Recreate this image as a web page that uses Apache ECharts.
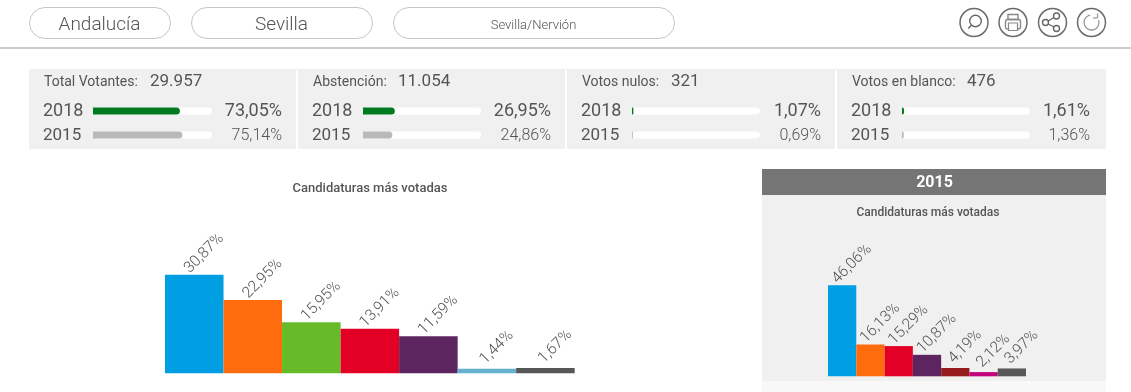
<!DOCTYPE html>
<html><head><meta charset="utf-8">
<style>html,body{margin:0;padding:0;background:#fff}#c{width:1131px;height:392px}</style>
<script src="https://cdn.jsdelivr.net/npm/echarts@6/dist/echarts.min.js"></script>
</head><body><div id="c"></div>
<script>
const FONT = 'Roboto';
const breadcrumbs = ['Andalucía', 'Sevilla', 'Sevilla/Nervión'];
const statLabels = ['Total Votantes:', 'Abstención:', 'Votos nulos:', 'Votos en blanco:'];
const statValues = ['29.957', '11.054', '321', '476'];
const years = ['2018', '2015'];
const stat2018 = [73.05, 26.95, 1.07, 1.61];
const stat2015 = [75.14, 24.86, 0.69, 1.36];
const candidates2018 = [30.87, 22.95, 15.95, 13.91, 11.59, 1.44, 1.67];
const colors2018 = ['#009fe3', '#ff6c0e', '#67bb28', '#e30025', '#5c2560', '#66b1cd', '#575757'];
const candidates2015 = [46.06, 16.13, 15.29, 10.87, 4.19, 2.12, 3.97];
const colors2015 = ['#009fe3', '#ff6c0e', '#e30025', '#5c2560', '#951b1e', '#c4007b', '#575757'];
const chartTitle = 'Candidaturas más votadas';
const fmt = v => v.toFixed(2).replace('.', ',');

const panelX = [
  {text: 44, val: 150, bar0: 93, bar1: 212, pct: 282},
  {text: 313, val: 398, bar0: 363, bar1: 481, pct: 551},
  {text: 582, val: 671, bar0: 632, bar1: 760, pct: 821},
  {text: 852, val: 967, bar0: 902, bar1: 1030, pct: 1090}
];
const pills = [[29, 141, 19, 25], [191, 181, 19, 25], [393, 281, 13, 25.5]];

const g = [];
const T = (x, y, text, o = {}) => g.push({type: 'text', x, y, silent: true, z: 5, style: Object.assign({
  text, fontFamily: FONT, fontSize: 14, fill: '#555', verticalAlign: 'middle', align: 'left'}, o)});

// top bar
pills.forEach((p, i) => {
  g.push({type: 'rect', x: p[0] + .5, y: 7.5, shape: {width: p[1], height: 31, r: 15.5}, style: {fill: '#fff', stroke: '#c6c6c6', lineWidth: 1}});
  T(p[0] + p[1] / 2, p[3], breadcrumbs[i], {fontSize: p[2], fontWeight: 300, align: 'center', fill: '#555'});
});
g.push({type: 'rect', x: 0, y: 47, shape: {width: 1131, height: 2}, style: {fill: '#cccccc'}});

// icons
const ic = {stroke: '#666', fill: 'none', lineWidth: 1.4};
const ig = {stroke: '#888', fill: 'none', lineWidth: 1.4};
[974, 1013, 1052.5, 1091.5].forEach(cx => g.push({type: 'circle', x: cx, y: 22.5, shape: {r: 14}, style: {fill: '#fff', stroke: '#6a6a6a', lineWidth: 1.5}}));
g.push({type: 'circle', x: 975.5, y: 21, shape: {r: 5.8}, style: ic});
g.push({type: 'line', shape: {x1: 971.5, y1: 25, x2: 968.3, y2: 28.5}, style: ic});
g.push({type: 'rect', x: 1008, y: 14.5, shape: {width: 10, height: 5}, style: ig});
g.push({type: 'rect', x: 1005.5, y: 19.5, shape: {width: 15, height: 9.5, r: 2}, style: ig});
g.push({type: 'rect', x: 1008.5, y: 23, shape: {width: 9, height: 7.5}, style: {fill: '#fff', stroke: '#888', lineWidth: 1.2}});
[[1045.5, 22.5], [1056.5, 16], [1056.5, 28.5]].forEach(p => g.push({type: 'circle', x: p[0], y: p[1], shape: {r: 3}, style: ic}));
g.push({type: 'line', shape: {x1: 1048.2, y1: 21, x2: 1053.8, y2: 17.5}, style: ic});
g.push({type: 'line', shape: {x1: 1048.2, y1: 24, x2: 1053.8, y2: 27}, style: ic});
g.push({type: 'arc', x: 1091.5, y: 22.5, shape: {r: 7.5, startAngle: -0.35, endAngle: -1.75, clockwise: true}, style: {stroke: '#999', fill: 'none', lineWidth: 1.3}});
g.push({type: 'line', shape: {x1: 1097.5, y1: 13.5, x2: 1097.5, y2: 18}, style: {stroke: '#999', lineWidth: 1.2}});
g.push({type: 'line', shape: {x1: 1097.5, y1: 18, x2: 1093, y2: 18}, style: {stroke: '#999', lineWidth: 1.2}});

// stats strip
g.push({type: 'rect', x: 29, y: 69, shape: {width: 1077, height: 80}, style: {fill: '#f0f0f0'}});
[296, 565, 835].forEach(x => g.push({type: 'rect', x, y: 70, shape: {width: 2, height: 79}, style: {fill: '#fff'}}));

// 2015 panel
g.push({type: 'rect', x: 762, y: 169, shape: {width: 344, height: 26}, style: {fill: '#757575'}});
g.push({type: 'rect', x: 762, y: 195, shape: {width: 344, height: 186}, style: {fill: '#f0f0f0'}});
g.push({type: 'rect', x: 762, y: 381, shape: {width: 344, height: 11}, style: {fill: '#f8f8f8'}});
T(934.5, 182.5, '2015', {fontSize: 16, fontWeight: 700, fill: '#fff', align: 'center'});
T(370, 188.5, chartTitle, {fontSize: 13, fontWeight: 500, align: 'center', fill: '#555'});
T(928, 213, chartTitle, {fontSize: 12, fontWeight: 500, align: 'center', fill: '#555'});

const grids = [], xAxes = [], yAxes = [], series = [];
panelX.forEach((p, i) => {
  T(p.text, 82.5, statLabels[i], {fontSize: 14});
  T(p.val, 81.5, statValues[i], {fontSize: 17});
  T(p.text - 1, 111.5, years[0], {fontSize: 18});
  T(p.text - 1, 135.5, years[1], {fontSize: 17});
  T(p.pct, 111.5, fmt(stat2018[i]) + '%', {fontSize: 18, align: 'right'});
  T(p.pct, 135.5, fmt(stat2015[i]) + '%', {fontSize: 16, fontWeight: 300, align: 'right'});
  grids.push({left: p.bar0, width: p.bar1 - p.bar0, top: 99, height: 48});
  xAxes.push({type: 'value', gridIndex: i, min: 0, max: 100, show: false});
  yAxes.push({type: 'category', gridIndex: i, inverse: true, data: years, show: false});
  series.push({type: 'bar', xAxisIndex: i, yAxisIndex: i, barWidth: 7, silent: true, animation: false,
    showBackground: true, backgroundStyle: {color: '#fff', borderRadius: 3.5},
    data: [
      {value: stat2018[i], itemStyle: {color: '#007a1f', borderRadius: [0, 3.5, 3.5, 0]}},
      {value: stat2015[i], itemStyle: {color: '#b9b9b9', borderRadius: [0, 3.5, 3.5, 0]}}
    ]});
});

function addBars(vals, cols, box, max) {
  const i = grids.length;
  grids.push(box);
  xAxes.push({type: 'category', gridIndex: i, data: vals.map((_, k) => 'c' + k), show: false});
  yAxes.push({type: 'value', gridIndex: i, min: 0, max, show: false});
  series.push({type: 'bar', xAxisIndex: i, yAxisIndex: i, barCategoryGap: 0, animation: false, silent: true,
    data: vals.map((v, k) => ({value: v, itemStyle: {color: cols[k]}})),
    label: {show: true, position: 'top', rotate: 45, align: 'center', verticalAlign: 'middle',
      distance: 0, offset: [22, -8], fontFamily: FONT, fontSize: 15.5, fontWeight: 300, color: '#555',
      formatter: p => fmt(p.value) + '%'}});
}
addBars(candidates2018, colors2018, {left: 165, width: 409.7, top: 245.5, height: 127.8}, 40);
addBars(candidates2015, colors2015, {left: 828, width: 198, top: 277.5, height: 98.8}, 50);

const chart = echarts.init(document.getElementById('c'));
chart.setOption({animation: false, backgroundColor: '#fff', graphic: {elements: g},
  grid: grids, xAxis: xAxes, yAxis: yAxes, series});
</script></body></html>
